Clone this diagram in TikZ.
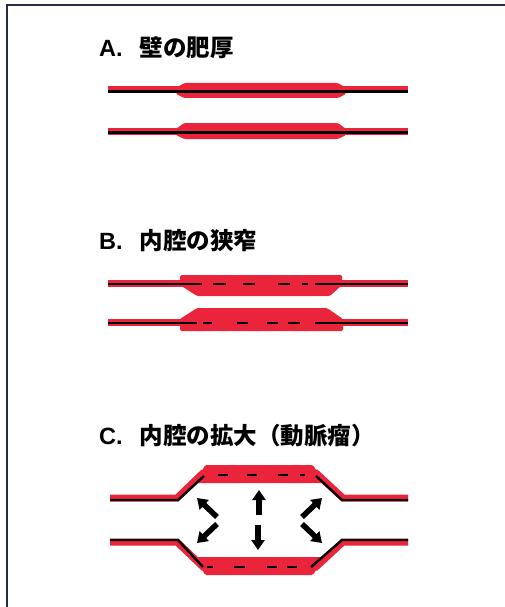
\documentclass[tikz,border=0pt]{standalone}
\usepackage{fontspec}
\setmainfont{Liberation Sans}
\newfontfamily\jpfont{Noto Sans CJK JP}
\usetikzlibrary{arrows.meta}

\definecolor{wallred}{RGB}{234,36,58}
\definecolor{framenavy}{RGB}{38,44,72}

\begin{document}
\begin{tikzpicture}[
    x=1pt, y=-1pt,
    wall/.style={draw=wallred, line width=7pt},
    core/.style={draw=black, line width=2.4pt},
    plaque/.style={fill=wallred, rounded corners=1.5pt},
    push/.style={-{Triangle[width=13pt,length=10pt]}, line width=5.5pt},
    title/.style={anchor=base west, inner sep=0pt,
                  font=\fontsize{23.5}{27}\selectfont\bfseries}
]
    \useasboundingbox (0,0) rectangle (504,607);
    % Frame
    \draw[framenavy, line width=2.5pt] (7,607) -- (7,5) -- (506,5);

    % A: thickened wall
    \node[title] (titleA) at (99,57) {A.\hspace{17pt}{\jpfont 壁の肥厚}};
    \draw[wall] (108,90) -- (408,90);
    \fill[plaque] (176,88) -- (184,83) -- (338,83) -- (346,88)
        -- (346,94) -- (338,98) -- (184,98) -- (176,94) -- cycle;
    \draw[core] (108,91.5) -- (408,91.5);
    \draw[wall] (108,131) -- (408,131);
    \fill[plaque] (176,129) -- (184,123) -- (338,123) -- (346,129)
        -- (346,135) -- (338,139) -- (184,139) -- (176,135) -- cycle;
    \draw[core] (108,132.5) -- (408,132.5);

    % B: narrowed lumen
    \node[title] (titleB) at (99,249) {B.\hspace{17pt}{\jpfont 内腔の狭窄}};
    \draw[wall] (108,283) -- (408,283);
    \fill[plaque] (180,275) -- (342,275) -- (342,285) -- (330,296)
        -- (197,296) -- (180,285) -- cycle;
    \draw[core] (108,284) -- (202,284) (213,284) -- (226,284)
        (243,284) -- (255,284) (278,284) -- (290,284)
        (302,284) -- (308,284) (315,284) -- (408,284);
    \draw[wall] (108,322) -- (408,322);
    \fill[plaque] (197,308) -- (327,308) -- (343,319) -- (343,331)
        -- (180,331) -- (180,319) -- cycle;
    \draw[core] (108,323) -- (197,323) (203,323) -- (212,323)
        (237,323) -- (248,323) (267,323) -- (278,323)
        (288,323) -- (300,323) (315,323) -- (408,323);

    % C: dilated lumen (aneurysm)
    \node[title] (titleC) at (99,444) {C.\hspace{17pt}{\jpfont 内腔の拡大（動脈瘤）}};
    \draw[wall] (110,498) -- (177,498) -- (203,473) -- (316,473)
        -- (343,498) -- (408,498);
    \fill[plaque] (205,465) -- (313,465) -- (324,483) -- (196,483) -- cycle;
    \draw[core] (110,500) -- (178,500) -- (204,476);
    \draw[core] (218,475) -- (228,475) (247,475) -- (257,475)
        (278,475) -- (288,475) (300,475) -- (305,475);
    \draw[core] (316,476) -- (342,500) -- (408,500);
    \draw[wall] (110,542) -- (177,542) -- (203,567) -- (316,567)
        -- (343,542) -- (408,542);
    \fill[plaque] (196,557) -- (324,557) -- (313,575) -- (205,575) -- cycle;
    \draw[core] (110,540) -- (178,540) -- (203,567);
    \draw[core] (207,567) -- (213,567) (234,567) -- (245,567)
        (267,567) -- (277,567) (287,567) -- (297,567);
    \draw[core] (311,567) -- (342,540) -- (408,540);

    % Pressure arrows
    \draw[push] (259,515) -- (259,490);
    \draw[push] (258,525) -- (258,550);
    \draw[push] (217,517) -- (197,498);
    \draw[push] (217,524) -- (197,543);
    \draw[push] (302,517) -- (322,498);
    \draw[push] (302,524) -- (322,543);
\end{tikzpicture}
\end{document}
